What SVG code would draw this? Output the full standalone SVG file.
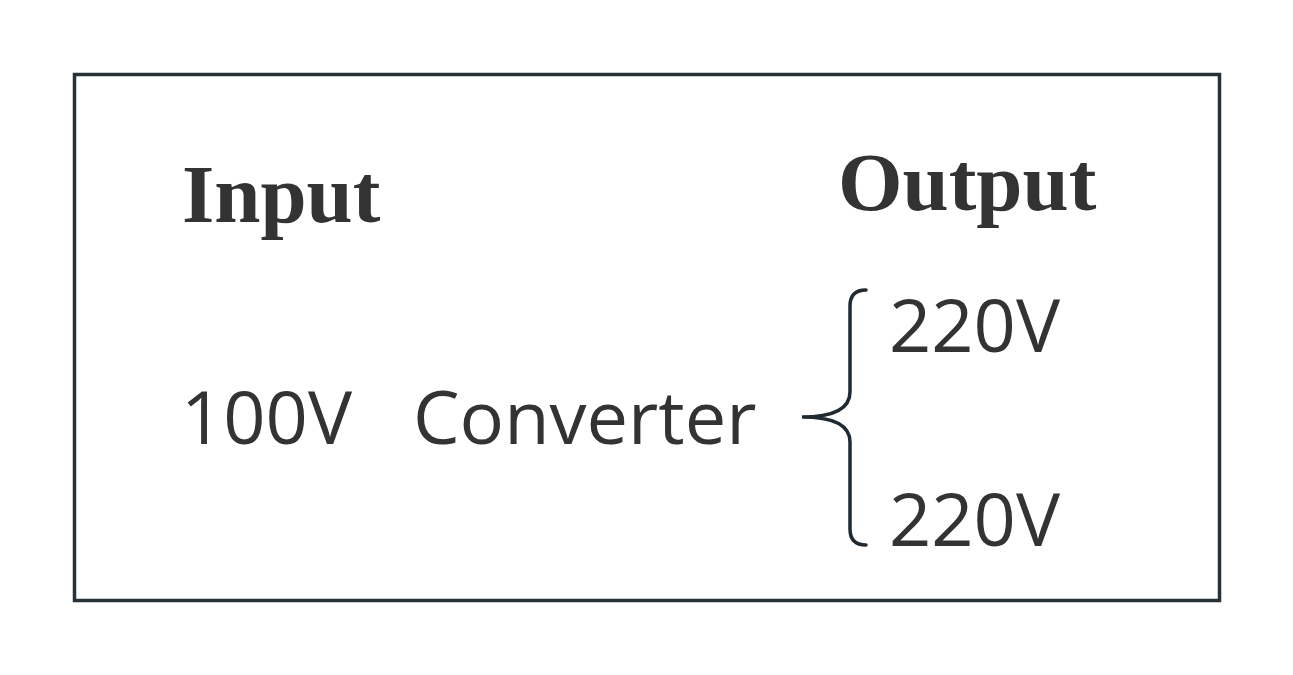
<svg xmlns="http://www.w3.org/2000/svg" width="1293" height="675" viewBox="0 0 1293 675">
<style>
.serif{font-family:"Liberation Serif","DejaVu Serif",serif;font-weight:bold;font-size:83px;fill:#333}
.sans{font-family:"Open Sans","Noto Sans",sans-serif;font-size:74px;fill:#333}
.frame{fill:#fff;stroke:#263238;stroke-width:3.5}
.brace{fill:none;stroke:#1f2a33;stroke-width:3.5;stroke-linecap:round}
</style>
<rect width="1293" height="675" fill="#fff"/>
<g id="frame"><rect class="frame" x="74.5" y="74.5" width="1145" height="526"/></g>
<g id="input"><text class="serif" x="182" y="222">Input</text></g>
<g id="output"><text class="serif" x="838" y="210">Output</text></g>
<g id="v100"><text class="sans" x="181" y="444">100V</text></g>
<g id="converter"><text class="sans" x="413" y="444">Converter</text></g>
<g id="out1"><text class="sans" x="889" y="352">220V</text></g>
<g id="out2"><text class="sans" x="889" y="546">220V</text></g>
<g id="connectors">
<path class="brace" d="M866,290 Q850,290 850,306 L850,392 Q850,417 802,417 Q850,417 850,442 L850,529 Q850,545 866,545"/>
</g>
</svg>
